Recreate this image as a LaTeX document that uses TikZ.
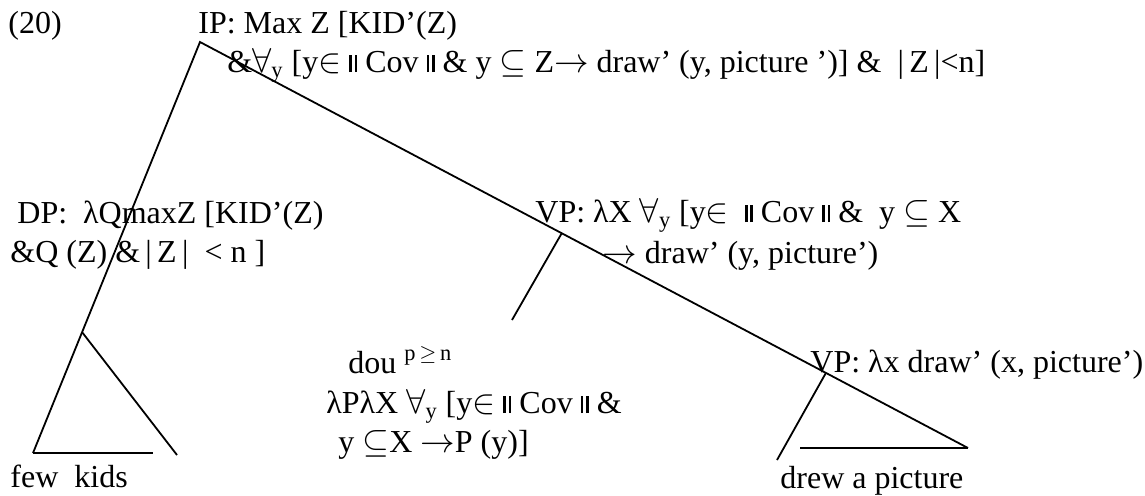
\documentclass[tikz,border=0pt]{standalone}
\usepackage{fontspec}
\setmainfont{Liberation Serif}
\usetikzlibrary{calc}

% Doppelstrich um "Cov"
\newcommand{\normstrich}{\rule{1.3pt}{8.5pt}\hspace{1.4pt}\rule{1.3pt}{8.5pt}}

\begin{document}
\begin{tikzpicture}[
      x=0.5pt, y=-0.5pt,
      ast/.style={draw=black, line width=0.9pt},
      zeile/.style={anchor=base west, inner sep=0pt, font=\fontsize{16}{20}\selectfont}
    ]
    \useasboundingbox (0,0) rectangle (1145,495);

    % ---------- Knotenpunkte des Baums ----------
    \coordinate (ip)     at (200,42);
    \coordinate (few-l)  at (33,453);
    \coordinate (few-r)  at (153,453);
    \coordinate (dp-r)   at (177,455);
    \coordinate (drew-r) at (968,448);
    \coordinate (drew-m) at (800,448);
    \coordinate (drew-l) at (777,460);
    \coordinate (dou)    at (512,320);
    % Verzweigungen liegen auf den langen Ästen
    \coordinate (dp)   at ($(ip)!0.706!(few-l)$);
    \coordinate (vp)   at ($(ip)!0.471!(drew-r)$);
    \coordinate (vp-u) at ($(ip)!0.815!(drew-r)$);

    % ---------- Äste ----------
    \draw[ast] (few-l) -- (dp) -- (ip) -- (vp) -- (vp-u) -- (drew-r);
    \draw[ast] (dp) -- (dp-r);
    \draw[ast] (few-l) -- (few-r);
    \draw[ast] (vp) -- (dou);
    \draw[ast] (vp-u) -- (drew-l);
    \draw[ast] (drew-m) -- (drew-r);

    % ---------- Beschriftungen ----------
    \node[zeile] (nummer) at (8,33) {(20)};
    \node[zeile] (ip-a) at (198,33) {IP: Max Z [KID’(Z)};
    \node[zeile] (ip-b) at (227,72)
      {\&$\forall$\textsubscript{y} [y$\in$ \normstrich\ Cov \normstrich\ \& y $\subseteq$ Z$\rightarrow$ draw’ (y, picture ’)] \& \ |\,Z\,|<n]};

    \node[zeile] (dp-a) at (17,223) {DP: \ λQmaxZ [KID’(Z)};
    \node[zeile] (dp-b) at (10,262) {\&Q (Z) \&\,|\,Z\,| \ < n ]};

    \node[zeile] (vp-a) at (535,222)
      {VP: λX $\forall$\textsubscript{y} [y$\in$ \ \normstrich\ Cov \normstrich\ \& \ y $\subseteq$ X};
    \node[zeile] (vp-b) at (602,263) {$\rightarrow$ draw’ (y, picture’)};

    \node[zeile] (dou-a) at (348,373) {dou \textsuperscript{p\,$\geq$\,n}};
    \node[zeile] (dou-b) at (326,413)
      {λPλX $\forall$\textsubscript{y} [y$\in$ \normstrich\ Cov \normstrich\ \&};
    \node[zeile] (dou-c) at (338,452) {y $\subseteq$X $\rightarrow$P (y)]};

    \node[zeile] (vpu-a) at (810,372) {VP: λx draw’ (x, picture’)};

    \node[zeile] (few)  at (10,487)  {few \ kids};
    \node[zeile] (drew) at (780,488) {drew a picture};
  \end{tikzpicture}
\end{document}
